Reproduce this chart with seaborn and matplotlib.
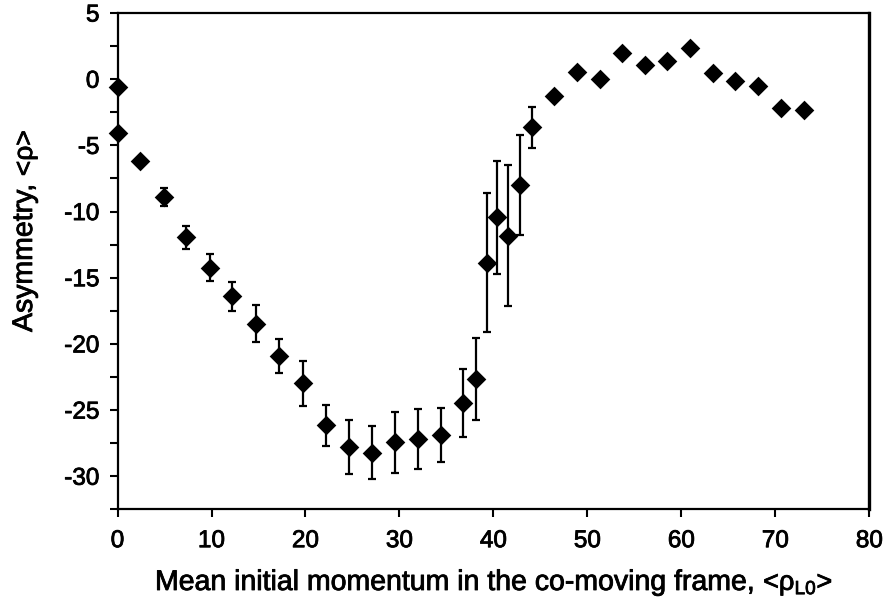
import matplotlib
matplotlib.use("Agg")
import matplotlib.pyplot as plt
import matplotlib.patheffects as pe
import numpy as np
import pandas as pd
import seaborn as sns

# Mean initial momentum (x) and asymmetry (y) with symmetric uncertainties
momentum = [0.0, 0.0, 2.4, 4.9, 7.3, 9.8, 12.2, 14.7, 17.2, 19.7, 22.2, 24.6,
            27.1, 29.5, 32.0, 34.4, 36.8, 38.1, 39.3, 40.4, 41.6, 42.8, 44.1,
            46.4, 48.9, 51.3, 53.7, 56.1, 58.5, 60.9, 63.4, 65.7, 68.1, 70.6,
            73.0]
asymmetry = [-0.57, -4.05, -6.19, -8.89, -11.96, -14.23, -16.39, -18.46,
             -20.93, -22.99, -26.15, -27.79, -28.24, -27.45, -27.2, -26.9,
             -24.46, -22.62, -13.88, -10.45, -11.84, -8.0, -3.62, -1.28, 0.56,
             -0.02, 2.0, 1.07, 1.39, 2.33, 0.44, -0.12, -0.5, -2.21, -2.34]
uncertainty = [np.nan, np.nan, np.nan, 0.7, 0.9, 1.05, 1.1, 1.4, 1.3, 1.7,
               1.55, 2.05, 2.0, 2.3, 2.25, 2.05, 2.6, 3.1, 5.25, 4.25, 5.32,
               3.75, 1.55, np.nan, np.nan, np.nan, np.nan, np.nan, np.nan,
               np.nan, np.nan, np.nan, np.nan, np.nan, np.nan]

x_ticks = [0, 10, 20, 30, 40, 50, 60, 70, 80]
y_ticks = [5, 0, -5, -10, -15, -20, -25, -30]

x_label_main = "Mean initial momentum in the co-moving frame, "
x_label_tail = r"<ρ$_{\mathrm{L0}}$>"
y_label_main = "Asymmetry, "
y_label_tail = "<ρ>"

df = pd.DataFrame({"p": momentum, "a": asymmetry, "err": uncertainty})

sns.set_style("ticks")
plt.rcParams["font.family"] = ["Liberation Sans", "DejaVu Sans"]
plt.rcParams["mathtext.fontset"] = "custom"
plt.rcParams["mathtext.rm"] = "Liberation Sans"
plt.rcParams["mathtext.it"] = "Liberation Sans"
plt.rcParams["axes.unicode_minus"] = False
plt.rcParams["text.color"] = "black"

W, H = 885, 611
fig = plt.figure(figsize=(W / 100, H / 100), dpi=100)
ax = fig.add_axes([0.1328, 0.1664, 0.9823 - 0.1328, 0.9787 - 0.1664])

heavy = [pe.withStroke(linewidth=0.6, foreground="black")]

with_err = df.dropna(subset=["err"])
ax.errorbar(with_err["p"], with_err["a"], yerr=with_err["err"], fmt="none",
            ecolor="black", elinewidth=1.6, capsize=3.0, capthick=1.6,
            zorder=2, clip_on=False)

sns.scatterplot(data=df, x="p", y="a", marker="D", s=100, color="black",
                edgecolor="black", linewidth=0, ax=ax, zorder=3, clip_on=False)

ax.set_xlim(0, 80)
ax.set_ylim(-32.5, 5)
ax.set_xticks(x_ticks)
ax.set_yticks(y_ticks)
ax.set_yticks(np.arange(-32.5, 5.1, 2.5), minor=True)
ax.tick_params(axis="both", which="both", direction="out", length=6,
               width=1.5, colors="black", labelsize=17.5)
ax.tick_params(axis="x", pad=9)
ax.tick_params(axis="y", pad=7)
for lbl in ax.get_xticklabels() + ax.get_yticklabels():
    lbl.set_path_effects(heavy)
ax.set_xlabel("")
ax.set_ylabel("")

for side in ["left", "bottom", "top"]:
    ax.spines[side].set_visible(True)
    ax.spines[side].set_linewidth(1.6)
    ax.spines[side].set_color("black")
ax.spines["right"].set_visible(True)
ax.spines["right"].set_linewidth(2.4)
ax.spines["right"].set_color("black")

# Axis titles: main text followed by a smaller symbol part
fig.canvas.draw()
renderer = fig.canvas.get_renderer()

xm = fig.text(155 / W, 1 - 590 / H, x_label_main, fontsize=20.5, ha="left",
              va="baseline", path_effects=heavy)
w_xm = xm.get_window_extent(renderer).width
fig.text((155 + w_xm) / W, 1 - 590 / H, x_label_tail, fontsize=19.5,
         ha="left", va="baseline", path_effects=heavy)

ym = fig.text(32 / W, 1 - 332 / H, y_label_main, fontsize=20.5, ha="left",
              va="baseline", rotation=90, rotation_mode="anchor",
              path_effects=heavy)
h_ym = ym.get_window_extent(renderer).height
fig.text(32 / W, 1 - (332 - h_ym) / H, y_label_tail, fontsize=19, ha="left",
         va="baseline", rotation=90, rotation_mode="anchor",
         path_effects=heavy)

fig.savefig("out.png", dpi=100)
